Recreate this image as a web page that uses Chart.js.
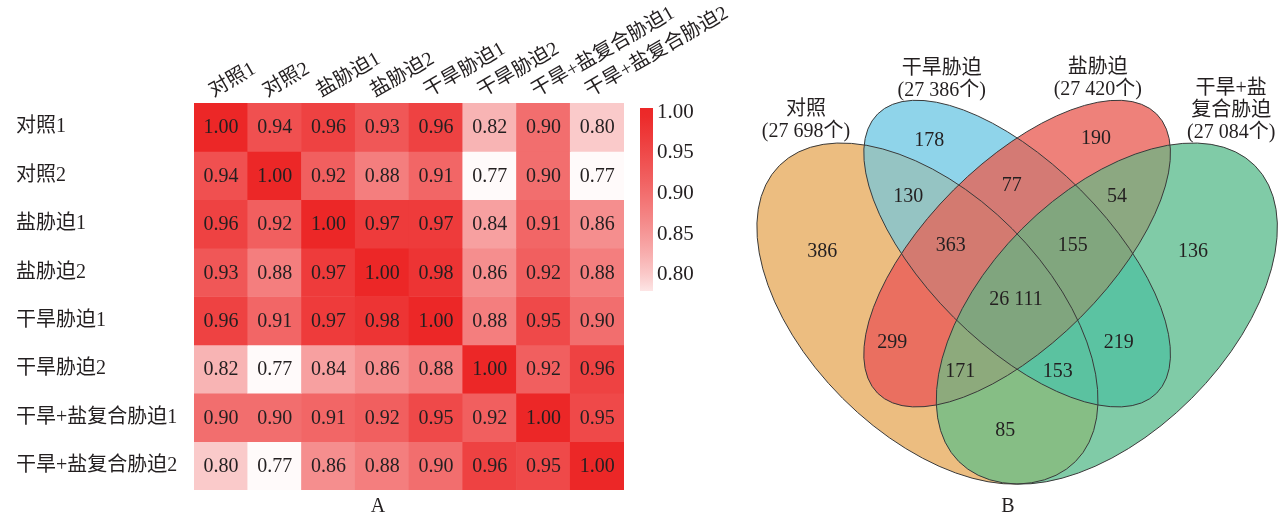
<!DOCTYPE html>
<html>
<head>
<meta charset="utf-8">
<script src="https://cdn.jsdelivr.net/npm/chart.js@4.4.0/dist/chart.umd.min.js"></script>
<style>
  html, body { margin: 0; padding: 0; background: #fff; }
  #wrap { position: relative; width: 1286px; height: 518px; overflow: hidden; }
  canvas { position: absolute; top: 0; }
</style>
</head>
<body>
<div id="wrap">
  <canvas id="heat" width="756" height="518" style="left:0"></canvas>
  <canvas id="cbar" width="80" height="220" style="left:630px;top:90px"></canvas>
  <canvas id="venn" width="546" height="518" style="left:740px"></canvas>
</div>
<script>
// panel A: sample correlation matrix
const sampleLabels = ['对照1', '对照2', '盐胁迫1', '盐胁迫2', '干旱胁迫1', '干旱胁迫2', '干旱+盐复合胁迫1', '干旱+盐复合胁迫2'];
const corrRow1 = [1.00, 0.94, 0.96, 0.93, 0.96, 0.82, 0.90, 0.80];
const corrRow2 = [0.94, 1.00, 0.92, 0.88, 0.91, 0.77, 0.90, 0.77];
const corrRow3 = [0.96, 0.92, 1.00, 0.97, 0.97, 0.84, 0.91, 0.86];
const corrRow4 = [0.93, 0.88, 0.97, 1.00, 0.98, 0.86, 0.92, 0.88];
const corrRow5 = [0.96, 0.91, 0.97, 0.98, 1.00, 0.88, 0.95, 0.90];
const corrRow6 = [0.82, 0.77, 0.84, 0.86, 0.88, 1.00, 0.92, 0.96];
const corrRow7 = [0.90, 0.90, 0.91, 0.92, 0.95, 0.92, 1.00, 0.95];
const corrRow8 = [0.80, 0.77, 0.86, 0.88, 0.90, 0.96, 0.95, 1.00];
const corr = [corrRow1, corrRow2, corrRow3, corrRow4, corrRow5, corrRow6, corrRow7, corrRow8];
const colorbarTicks = [0.80, 0.85, 0.90, 0.95, 1.00];
const colorLow = 0.769, colorHigh = 1.0;
const cbLow = 0.78, cbHigh = 1.005;

// panel B: venn of expressed genes
const setNameLines = [['对照'], ['干旱胁迫'], ['盐胁迫'], ['干旱+盐', '复合胁迫']];
const setTotals = [27698, 27386, 27420, 27084];
// region = bitmask of sets (1 对照, 2 干旱胁迫, 4 盐胁迫, 8 复合)
const regionMasks = [1, 2, 4, 8, 3, 6, 12, 7, 14, 15, 5, 10, 13, 11, 9];
const regionCounts = [386, 178, 190, 136, 130, 77, 54, 363, 155, 26111, 299, 219, 171, 153, 85];

// layout (venn units)
const regionPos = [[0.174, 0.573], [0.353, 0.759], [0.632, 0.761], [0.794, 0.573], [0.318, 0.664],
  [0.491, 0.684], [0.667, 0.664], [0.389, 0.583], [0.593, 0.583], [0.498, 0.493],
  [0.291, 0.421], [0.670, 0.421], [0.405, 0.373], [0.568, 0.373], [0.480, 0.274]];
const setTitlePos = [[0.147, 0.774], [0.374, 0.842], [0.635, 0.843], [0.858, 0.772]];
const ellipses = [
  { cx: 0.35, cy: 0.47, a: 0.35, b: 0.20, rot: 135 },
  { cx: 0.50, cy: 0.57, a: 0.33, b: 0.15, rot: 135 },
  { cx: 0.50, cy: 0.57, a: 0.33, b: 0.15, rot: 45 },
  { cx: 0.65, cy: 0.47, a: 0.35, b: 0.20, rot: 45 },
];
const regionColors = {
  1: '#ecbd80', 2: '#8fd4ea', 4: '#ee817a', 8: '#80cba7',
  3: '#95c4c3', 6: '#d47a74', 12: '#8ca881', 5: '#ea6f60', 9: '#86be85', 10: '#5bc3a2',
  7: '#d37a70', 14: '#81a67e', 13: '#8daa7c', 11: '#5bc2a0', 15: '#80a57e',
};

const FONT = "'Liberation Serif', 'Noto Sans CJK SC', serif";
const INK = '#231f20';
const RED = [236, 39, 39];
Chart.defaults.font.family = FONT;
Chart.defaults.font.size = 20;
Chart.defaults.color = INK;

function heatColor(v) {
  let t = (v - colorLow) / (colorHigh - colorLow);
  t = Math.pow(Math.min(1, Math.max(0, t)), 0.7);
  const c = RED.map((ch) => Math.round(255 + (ch - 255) * t));
  return `rgb(${c.join(',')})`;
}

function spaced(n) {
  return n >= 10000 ? String(n).replace(/\B(?=(\d{3})+(?!\d))/g, ' ') : String(n);
}

const cellText = {
  id: 'cellText',
  afterDatasetsDraw(chart) {
    const ctx = chart.ctx;
    ctx.save();
    ctx.font = `20px ${FONT}`;
    ctx.fillStyle = INK;
    ctx.textAlign = 'center';
    ctx.textBaseline = 'middle';
    chart.data.datasets.forEach((ds, i) => {
      chart.getDatasetMeta(i).data.forEach((bar, j) => {
        const p = bar.getCenterPoint();
        ctx.fillText(corr[i][j].toFixed(2), p.x, p.y + 1);
      });
    });
    ctx.fillText('A', 378, 507);
    ctx.restore();
  },
};

new Chart(document.getElementById('heat'), {
  type: 'bar',
  data: {
    labels: sampleLabels,
    datasets: corr.map((row, i) => ({
      data: row.map(() => [i, i + 1]),
      backgroundColor: row.map(heatColor),
      borderWidth: 0,
      barPercentage: 1,
      categoryPercentage: 1,
      grouped: false,
    })),
  },
  options: {
    responsive: false,
    animation: false,
    layout: { padding: { left: 16, right: 132, top: 0, bottom: 28 } },
    plugins: { legend: { display: false }, tooltip: { enabled: false } },
    scales: {
      x: {
        position: 'top',
        grid: { display: false, drawTicks: false },
        border: { display: false },
        ticks: { minRotation: 30, maxRotation: 30, autoSkip: false, labelOffset: 2, padding: 0 },
        afterFit: (s) => { s.height = 103; s.paddingLeft = 0; s.paddingRight = 0; },
      },
      y: {
        reverse: true,
        min: 0,
        max: 8,
        grid: { display: false, drawTicks: false },
        border: { display: false },
        afterBuildTicks: (s) => { s.ticks = sampleLabels.map((_, i) => ({ value: i + 0.5 })); },
        ticks: { crossAlign: 'far', padding: 0, callback: (v) => sampleLabels[Math.floor(v)] },
        afterFit: (s) => { s.width = 178; s.paddingTop = 0; s.paddingBottom = 0; },
      },
    },
  },
  plugins: [cellText],
});

new Chart(document.getElementById('cbar'), {
  type: 'bar',
  data: {
    labels: [''],
    datasets: [{
      data: [[cbLow, cbHigh]],
      borderWidth: 0,
      barPercentage: 1,
      categoryPercentage: 1,
      backgroundColor: (c) => {
        const chart = c.chart;
        if (!chart.chartArea) return heatColor(1);
        const y = chart.scales.y;
        const g = chart.ctx.createLinearGradient(0, y.getPixelForValue(cbLow), 0, y.getPixelForValue(cbHigh));
        for (let k = 0; k <= 20; k++) {
          g.addColorStop(k / 20, heatColor(cbLow + (cbHigh - cbLow) * k / 20));
        }
        return g;
      },
    }],
  },
  options: {
    responsive: false,
    animation: false,
    layout: { padding: { left: 10, right: 0, top: 18, bottom: 19 } },
    plugins: { legend: { display: false }, tooltip: { enabled: false } },
    scales: {
      x: { display: false },
      y: {
        position: 'right',
        min: cbLow,
        max: cbHigh,
        grid: { display: false, drawTicks: false },
        border: { display: false },
        afterBuildTicks: (s) => { s.ticks = colorbarTicks.map((v) => ({ value: v })); },
        ticks: { padding: 4, font: { size: 21 }, callback: (v) => v.toFixed(2) },
        afterFit: (s) => { s.width = 57; s.paddingTop = 0; s.paddingBottom = 0; },
      },
    },
  },
});

function ellipsePath(ctx, xs, ys, e) {
  const sx = xs.getPixelForValue(1) - xs.getPixelForValue(0);
  const sy = ys.getPixelForValue(0) - ys.getPixelForValue(1);
  ctx.beginPath();
  ctx.ellipse(xs.getPixelForValue(e.cx), ys.getPixelForValue(e.cy), e.a * sx, e.b * sy,
    -e.rot * Math.PI / 180, 0, Math.PI * 2);
}

const vennDraw = {
  id: 'vennDraw',
  beforeDatasetsDraw(chart) {
    const ctx = chart.ctx;
    const xs = chart.scales.x, ys = chart.scales.y;
    const masks = Object.keys(regionColors).map(Number)
      .sort((m, n) => m.toString(2).split('1').length - n.toString(2).split('1').length);
    masks.forEach((m) => {
      const idx = [0, 1, 2, 3].filter((k) => m & (1 << k));
      ctx.save();
      idx.slice(0, -1).forEach((k) => { ellipsePath(ctx, xs, ys, ellipses[k]); ctx.clip(); });
      ellipsePath(ctx, xs, ys, ellipses[idx[idx.length - 1]]);
      ctx.fillStyle = regionColors[m];
      ctx.fill();
      ctx.restore();
    });
    ctx.save();
    ctx.strokeStyle = '#3a3a3a';
    ctx.lineWidth = 1;
    ellipses.forEach((e) => { ellipsePath(ctx, xs, ys, e); ctx.stroke(); });
    ctx.restore();
  },
  afterDatasetsDraw(chart) {
    const ctx = chart.ctx;
    const xs = chart.scales.x, ys = chart.scales.y;
    ctx.save();
    ctx.font = `20px ${FONT}`;
    ctx.fillStyle = INK;
    ctx.textAlign = 'center';
    ctx.textBaseline = 'middle';
    chart.getDatasetMeta(0).data.forEach((pt, i) => {
      ctx.fillText(spaced(regionCounts[i]), pt.x, pt.y);
    });
    setNameLines.forEach((lines, i) => {
      const x = xs.getPixelForValue(setTitlePos[i][0]);
      const y = ys.getPixelForValue(setTitlePos[i][1]);
      const all = lines.concat([`(${spaced(setTotals[i])}个)`]);
      all.forEach((t, k) => ctx.fillText(t, x, y - (all.length - 1 - k) * 22));
    });
    ctx.fillText('B', 268, 507);
    ctx.restore();
  },
};

new Chart(document.getElementById('venn'), {
  type: 'scatter',
  data: {
    datasets: [{
      data: regionMasks.map((m, i) => ({ x: regionPos[i][0], y: regionPos[i][1] })),
      pointRadius: 0,
      pointHoverRadius: 0,
    }],
  },
  options: {
    responsive: false,
    animation: false,
    layout: { padding: 0, autoPadding: false },
    plugins: { legend: { display: false }, tooltip: { enabled: false } },
    scales: {
      x: { display: false, min: 0.0366, max: 0.9496 },
      y: { display: false, min: 0.129, max: 0.993 },
    },
  },
  plugins: [vennDraw],
});
</script>
</body>
</html>
